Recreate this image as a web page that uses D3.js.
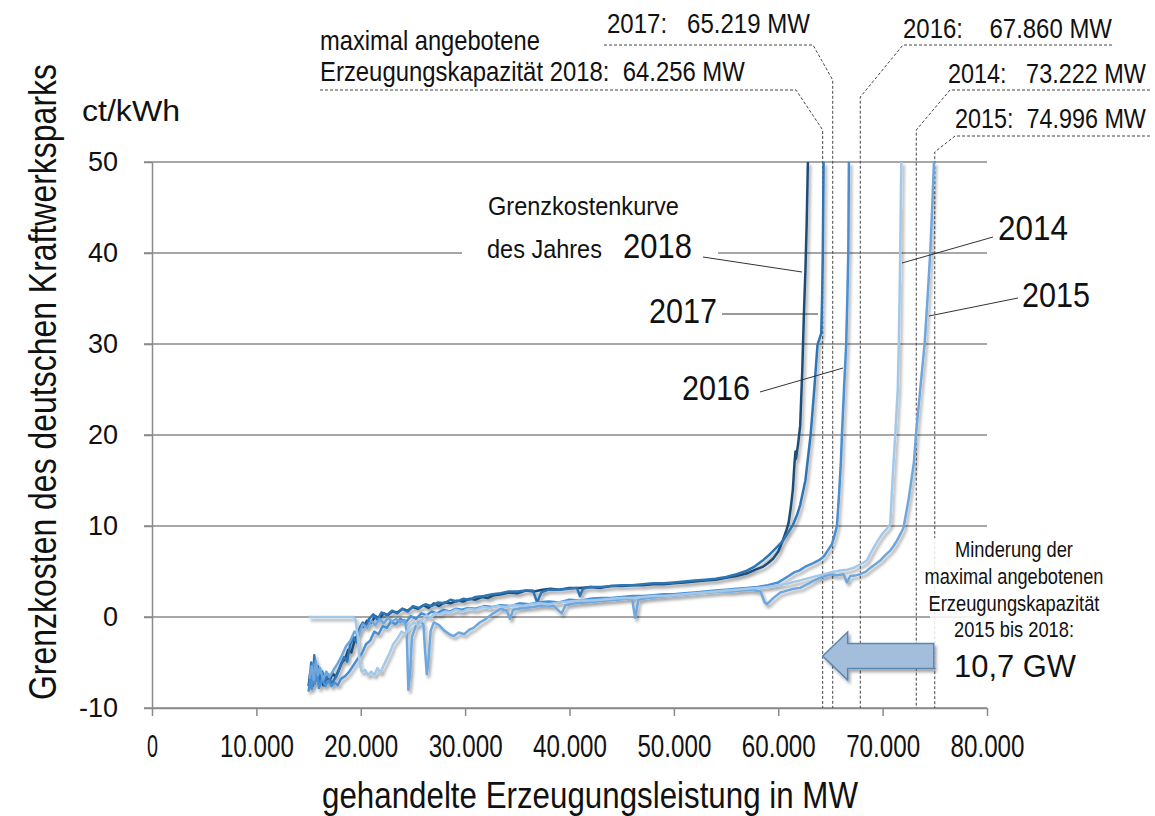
<!DOCTYPE html>
<html>
<head>
<meta charset="utf-8">
<script src="https://cdn.jsdelivr.net/npm/d3@7"></script>
<style>
  body { margin: 0; background: #fff; }
  svg text { font-family: "Liberation Sans", Arial, sans-serif; fill: #111; white-space: pre; }
</style>
</head>
<body>
<svg id="chart" width="1155" height="816"></svg>
<script>
// ---- data (MW, ct/kWh) ----
var xTicks = [0, 10000, 20000, 30000, 40000, 50000, 60000, 70000, 80000];
var xTickLabels = ["0", "10.000", "20.000", "30.000", "40.000", "50.000", "60.000", "70.000", "80.000"];
var yTicks = [-10, 0, 10, 20, 30, 40, 50];

var curve2018 = [[15000,-7.6],[15150,-6.2],[15300,-7.8],[15450,-6.0],[15600,-7.0],[15800,-5.6],[16000,-7.2],[16200,-6.4],[16400,-7.5],[16700,-6.6],[17000,-7.0],[17300,-6.2],[17600,-6.6],[17900,-5.8],[18200,-5.0],[18500,-4.6],[18800,-3.6],[19100,-3.9],[19400,-2.6],[19700,-2.0],[20000,-1.2],[20300,-1.0],[20600,-0.4],[21000,-0.6],[21400,0.1],[21800,-0.2],[22200,0.4],[22600,0.2],[23000,0.6],[23500,0.5],[24000,0.9],[24500,0.7],[25000,1.1],[25500,0.9],[26000,1.3],[26500,1.0],[27000,1.5],[27500,1.2],[28000,1.6],[28600,1.5],[29200,1.8],[29800,1.7],[30400,2.0],[31000,1.9],[31600,2.2],[32200,2.1],[32800,2.4],[33500,2.5],[34200,2.7],[35000,2.6],[35800,2.9],[36600,2.8],[37400,3.0],[38200,3.1],[39000,3.0],[40000,3.2],[41000,3.2],[42000,3.3],[43000,3.2],[44000,3.4],[45000,3.4],[46000,3.5],[47000,3.5],[48000,3.6],[49000,3.6],[50000,3.7],[51000,3.8],[52000,3.9],[53000,4.0],[54000,4.1],[55000,4.3],[56000,4.5],[57000,4.8],[57800,5.2],[58500,5.5],[59000,5.9],[59500,6.4],[60000,7.2],[60400,8.3],[60800,9.6],[61000,10.4],[61200,12],[61400,14],[61550,16.8],[61650,18.2],[61700,17.4],[61900,19],[62100,21],[62300,27],[62450,33],[62600,38],[62720,43],[62840,50]];

var curve2017 = [[15100,-7.2],[15250,-5.0],[15400,-7.6],[15550,-4.2],[15700,-6.8],[15900,-5.4],[16100,-7.4],[16300,-6.0],[16600,-7.1],[16900,-6.3],[17200,-7.4],[17500,-6.8],[17800,-6.2],[18100,-5.2],[18400,-4.4],[18700,-4.9],[19000,-3.0],[19300,-2.2],[19600,-2.8],[19900,-1.2],[20200,-0.6],[20500,-1.0],[20800,-0.2],[21200,0.3],[21600,-0.3],[22000,0.5],[22500,0.2],[23000,0.7],[23500,0.4],[24000,0.9],[24500,0.6],[25000,1.2],[25600,1.0],[26200,1.4],[26800,1.2],[27400,1.6],[28000,1.5],[28600,1.9],[29200,1.7],[29800,2.0],[30400,1.9],[31000,2.2],[31800,2.3],[32600,2.5],[33400,2.6],[34200,2.8],[35000,2.8],[35800,2.9],[36500,2.9],[36900,1.6],[37300,2.7],[38000,3.0],[39000,3.0],[40000,3.1],[40700,3.2],[41000,2.3],[41300,3.1],[42000,3.3],[43000,3.3],[44000,3.4],[45000,3.5],[46000,3.5],[47000,3.6],[48000,3.7],[49000,3.7],[50000,3.8],[51000,3.9],[52000,4.0],[53000,4.1],[54000,4.2],[55000,4.4],[56000,4.7],[57000,5.1],[57800,5.6],[58500,6.2],[59200,6.9],[59800,7.6],[60400,8.3],[60900,9.2],[61400,10.1],[61800,11.2],[62100,12.3],[62600,15],[63100,20],[63450,25],[63760,29.9],[63900,30.4],[64120,31.2],[64200,35],[64270,40],[64340,50]];

var curve2016 = [[15000,-8.2],[15150,-6.8],[15300,-7.9],[15450,-5.2],[15600,-7.4],[15800,-6.2],[16000,-7.8],[16300,-6.8],[16600,-7.6],[16900,-7.0],[17200,-7.6],[17500,-7.2],[17800,-7.5],[18100,-6.8],[18500,-6.5],[18900,-6.0],[19300,-5.3],[19700,-4.6],[20100,-4.0],[20500,-3.0],[20900,-2.6],[21300,-1.6],[21700,-1.9],[22100,-1.0],[22500,-1.2],[22900,-0.5],[23300,-0.8],[23800,-0.2],[24300,-0.6],[24800,0.1],[25300,-0.2],[25800,0.4],[26300,0.2],[26800,0.6],[27300,0.4],[27900,0.8],[28500,0.6],[29100,0.9],[29700,0.8],[30300,1.0],[31000,0.9],[31800,1.2],[32600,1.1],[33400,1.3],[34300,1.2],[35200,1.5],[36100,1.4],[37000,1.6],[38000,1.7],[39000,1.6],[40000,1.9],[41000,1.8],[42000,2.0],[43000,2.1],[44000,2.1],[45000,2.2],[46000,2.3],[47000,2.3],[48000,2.4],[49000,2.5],[50000,2.5],[51000,2.6],[52000,2.7],[53000,2.8],[54000,2.9],[55000,3.0],[56000,3.1],[57000,3.2],[58000,3.3],[59000,3.5],[60000,3.8],[61000,4.5],[61500,4.9],[62000,5.1],[62700,5.6],[63300,5.9],[64000,6.3],[64400,6.7],[64800,7.4],[65140,8.0],[65400,9.0],[65620,10],[65800,13],[66000,17],[66100,20],[66300,25],[66510,30],[66620,35],[66710,40],[66770,50]];

var curve2015 = [[15100,-6.8],[15300,-5.4],[15500,-6.9],[15700,-4.8],[15900,-6.4],[16100,-5.6],[16400,-6.9],[16700,-6.0],[17000,-6.6],[17400,-5.8],[17800,-5.1],[18200,-4.2],[18600,-3.2],[19000,-2.6],[19400,-1.6],[19800,-2.0],[20200,-0.8],[20600,-1.2],[21000,-0.4],[21400,-0.9],[21800,-0.2],[22200,-0.7],[22600,-0.1],[23000,-0.5],[23400,-0.2],[23800,-0.6],[24200,-0.3],[24400,-1.5],[24560,-8.0],[24750,-5.8],[24900,-2.2],[25300,-0.9],[25700,-0.5],[26000,-0.8],[26150,-3.5],[26330,-6.3],[26500,-4.6],[26700,-1.5],[27000,-0.6],[27500,-0.9],[28000,-1.5],[28500,-1.9],[28900,-2.1],[29400,-1.7],[29900,-1.9],[30400,-1.4],[30800,-1.2],[31400,-0.6],[32000,-0.2],[32700,0.4],[33400,0.9],[34000,0.7],[34300,-0.2],[34600,0.8],[35500,1.0],[36500,1.1],[37500,1.3],[38500,1.2],[39260,0.4],[39600,1.3],[40500,1.5],[41500,1.6],[42500,1.7],[43500,1.8],[44500,1.9],[45500,2.0],[46000,2.0],[46290,-0.1],[46600,1.9],[47500,2.1],[48500,2.2],[49500,2.3],[50500,2.4],[51500,2.5],[52500,2.6],[53500,2.7],[54500,2.8],[55500,2.8],[56500,2.9],[57500,3.0],[58300,2.8],[58700,1.6],[58910,1.4],[59550,2.1],[60200,2.7],[60830,2.9],[61500,3.1],[62100,3.2],[62800,3.6],[63380,4.0],[64200,4.4],[64980,4.7],[65600,4.6],[66260,4.7],[66580,3.8],[66900,4.5],[67500,4.6],[67860,4.7],[68400,5.0],[68810,5.4],[69300,5.8],[69770,6.2],[70250,6.8],[70730,7.3],[71050,7.8],[71370,8.4],[71700,9.1],[72000,9.8],[72500,13],[73000,17],[73190,20],[73600,25],[74020,30],[74300,35],[74560,40],[74750,45],[74920,50]];

var curve2014 = [[15000,0],[17000,0],[19300,0],[19500,-0.3],[19700,-2.0],[19900,-5.2],[20100,-6.0],[20400,-5.8],[20700,-6.4],[21000,-6.0],[21300,-6.4],[21600,-5.6],[21900,-6.1],[22200,-5.3],[22500,-4.6],[22800,-3.9],[23100,-3.0],[23500,-2.4],[23900,-1.6],[24300,-1.9],[24700,-1.0],[25100,-0.6],[25500,-0.9],[25900,-0.3],[26300,0.2],[26700,-0.1],[27100,0.4],[27600,0.3],[28100,0.6],[28600,0.5],[29100,0.8],[29700,0.6],[30300,0.9],[31000,0.8],[31700,1.1],[32400,1.0],[33100,1.2],[33900,1.1],[34700,1.3],[35500,1.2],[36300,1.4],[37100,1.5],[38000,1.4],[39000,1.6],[40000,1.7],[41000,1.8],[42000,1.8],[43000,1.9],[44000,2.0],[45000,2.1],[46000,2.1],[47000,2.2],[48000,2.3],[49000,2.3],[50000,2.4],[51000,2.5],[52000,2.6],[53000,2.7],[54000,2.8],[55000,2.9],[56000,3.0],[57000,3.1],[58000,3.2],[59000,3.3],[60000,3.5],[61000,3.7],[62000,4.0],[63000,4.3],[64000,4.6],[65000,4.9],[65940,5.1],[66600,5.2],[67210,5.4],[67900,5.8],[68490,6.2],[68800,6.9],[69130,7.6],[69600,8.5],[70000,9.2],[70410,9.7],[70730,10.2],[70900,14],[71050,17],[71210,20],[71450,25],[71550,30],[71690,40],[71790,50]];

// maximal offered capacity per year
var capYears = ["2018", "2017", "2016", "2014", "2015"];
var capMW = [64256, 65219, 67860, 73222, 74996];
var capLabels = ["Erzeugungskapazität 2018:  64.256 MW", "2017:   65.219 MW", "2016:    67.860 MW", "2014:   73.222 MW", "2015:  74.996 MW"];

// ---- setup ----
var svg = d3.select("#chart");
var x = d3.scaleLinear().domain([0, 80000]).range([152, 987]);
var y = d3.scaleLinear().domain([-10, 50]).range([708, 162]);
var gridColor = "#8a8a8a";

var defs = svg.append("defs");
var f = defs.append("filter").attr("id", "shadow")
  .attr("x", "-10%").attr("y", "-10%").attr("width", "130%").attr("height", "130%");
f.append("feDropShadow").attr("dx", 2).attr("dy", 3).attr("stdDeviation", 1.6)
  .attr("flood-color", "#000").attr("flood-opacity", 0.35);

// squeeze a text horizontally to a given width (narrow font look)
function squeeze(sel, len) {
  var w = sel.node().getComputedTextLength();
  return w > 0 ? len / w : 1;
}

// gridlines
svg.append("g").selectAll("line").data(yTicks).enter().append("line")
  .attr("x1", 144).attr("x2", x(80000))
  .attr("y1", function(d) { return y(d); }).attr("y2", function(d) { return y(d); })
  .attr("stroke", gridColor).attr("stroke-width", 1.5);

// axes
var xAxis = svg.append("g").attr("transform", "translate(0," + y(-10) + ")")
  .call(d3.axisBottom(x).tickValues(xTicks).tickFormat(function(d, i) { return xTickLabels[i]; })
    .tickSize(8).tickSizeOuter(0).tickPadding(18));
xAxis.selectAll("text").attr("font-size", 32).attr("fill", "#111")
  .each(function(d, i) {
    var t = d3.select(this);
    var k = squeeze(t, xTickLabels[i].length > 1 ? 74 : 11);
    var yy = +t.attr("y");
    t.attr("y", 0).attr("transform", "translate(0," + yy + ") scale(" + k + ",1)");
  });

var yAxis = svg.append("g").attr("transform", "translate(" + x(0) + ",0)")
  .call(d3.axisLeft(y).tickValues(yTicks).tickFormat(function(d) { return String(d); })
    .tickSize(8).tickSizeOuter(0).tickPadding(26));
yAxis.selectAll("text").attr("font-size", 27).attr("fill", "#111");
svg.selectAll(".domain, .tick line").attr("stroke", gridColor).attr("stroke-width", 1.5);
svg.selectAll(".tick text").style("font-family", "'Liberation Sans', Arial, sans-serif");

// white label box covering the 40 gridline
svg.append("rect").attr("x", 462).attr("y", 188).attr("width", 256).attr("height", 78).attr("fill", "#fff");

// capacity leaders (dashed)
var capGeo = [
  { ux1: 320, ux2: 796, uy: 90, vy: 130 },
  { ux1: 604, ux2: 813, uy: 45, vy: 80 },
  { ux1: 1112, ux2: 903, uy: 45, vy: 97 },
  { ux1: 1150, ux2: 950, uy: 90, vy: 130 },
  { ux1: 1150, ux2: 955, uy: 136, vy: 152 }
];
var gCap = svg.append("g").attr("fill", "none").attr("stroke", "#444")
  .attr("stroke-width", 1).attr("stroke-dasharray", "3,2");
capMW.forEach(function(mw, i) {
  var g = capGeo[i], xv = x(mw);
  gCap.append("path")
    .attr("d", "M" + g.ux1 + "," + g.uy + "L" + g.ux2 + "," + g.uy + "L" + xv + "," + g.vy + "L" + xv + "," + y(-10));
});

// curves
var line = d3.line().x(function(d) { return x(d[0]); }).y(function(d) { return y(d[1]); });
var curves = [
  { data: curve2018, color: "#1f4e79" },
  { data: curve2017, color: "#2e75b6" },
  { data: curve2016, color: "#4a8fd4" },
  { data: curve2015, color: "#6ea7dd" },
  { data: curve2014, color: "#a3c8ea" }
];
var gCurves = svg.append("g").attr("filter", "url(#shadow)");
curves.forEach(function(c) {
  gCurves.append("path").datum(c.data)
    .attr("fill", "none").attr("stroke", c.color).attr("stroke-width", 2.5)
    .attr("stroke-linejoin", "round").attr("d", line);
});

// year label leaders
var leaders = [[703,257,802,272],[722,314,818,314],[760,392,843,368],[993,237,902,263],[1018,298,929,316]];
svg.append("g").selectAll("line").data(leaders).enter().append("line")
  .attr("x1", function(d) { return d[0]; }).attr("y1", function(d) { return d[1]; })
  .attr("x2", function(d) { return d[2]; }).attr("y2", function(d) { return d[3]; })
  .attr("stroke", "#333").attr("stroke-width", 1);

// box for the reduction note
svg.append("rect").attr("x", 930).attr("y", 538).attr("width", 170).attr("height", 130)
  .attr("fill", "#fff").attr("opacity", 0.85);

// arrow from 2015 capacity to 2018 capacity
var xa = x(capMW[0]), xb = x(capMW[4]) - 1, ay = 656;
svg.append("path")
  .attr("d", "M" + xa + "," + ay + "L" + (xa + 25) + "," + (ay - 24) + "L" + (xa + 25) + "," + (ay - 12.5) +
    "L" + xb + "," + (ay - 12.5) + "L" + xb + "," + (ay + 12.5) + "L" + (xa + 25) + "," + (ay + 12.5) +
    "L" + (xa + 25) + "," + (ay + 24) + "Z")
  .attr("fill", "#a3bedb").attr("stroke", "#5a86b6").attr("stroke-width", 1.5)
  .attr("filter", "url(#shadow)");

// texts: placed at (xx,yy), squeezed to width len
function txt(s, xx, yy, size, len, anchor, rot) {
  var t = svg.append("text").attr("x", 0).attr("y", 0).attr("font-size", size).text(s);
  if (anchor) t.attr("text-anchor", anchor);
  var k = len ? squeeze(t, len) : 1;
  t.attr("transform", "translate(" + xx + "," + yy + ")" + (rot ? " rotate(" + rot + ")" : "") + " scale(" + k + ",1)");
  return t;
}
txt("ct/kWh", 82, 121, 30, 98);
txt("Grenzkosten des deutschen Kraftwerksparks", 56, 382, 38, 636, "middle", -90);
txt("gehandelte Erzeugungsleistung in MW", 590, 808, 37, 536, "middle");

// capacity labels
txt("maximal angebotene", 320, 50, 28, 220);
txt(capLabels[0], 320, 81, 28, 425);
txt(capLabels[1], 607, 33, 28, 203);
txt(capLabels[2], 903, 38, 28, 209);
txt(capLabels[3], 948, 83, 28, 198);
txt(capLabels[4], 955, 128, 28, 191);

// curve labels
txt("Grenzkostenkurve", 488, 215, 25, 191);
txt("des Jahres", 487, 258, 25, 115);
txt("2018", 623, 258, 35, 69);
txt("2017", 649, 323, 35, 68);
txt("2016", 682, 400, 35, 68);
txt("2014", 998, 240, 35, 70);
txt("2015", 1022, 307, 35, 68);

// reduction note
txt("Minderung der", 1014, 557, 22, 118, "middle");
txt("maximal angebotenen", 1014, 584, 22, 179, "middle");
txt("Erzeugungskapazität", 1014, 611, 22, 171, "middle");
txt("2015 bis 2018:", 1014, 637, 22, 120, "middle");
txt("10,7 GW", 1015, 677, 32, 122, "middle");
</script>
</body>
</html>
